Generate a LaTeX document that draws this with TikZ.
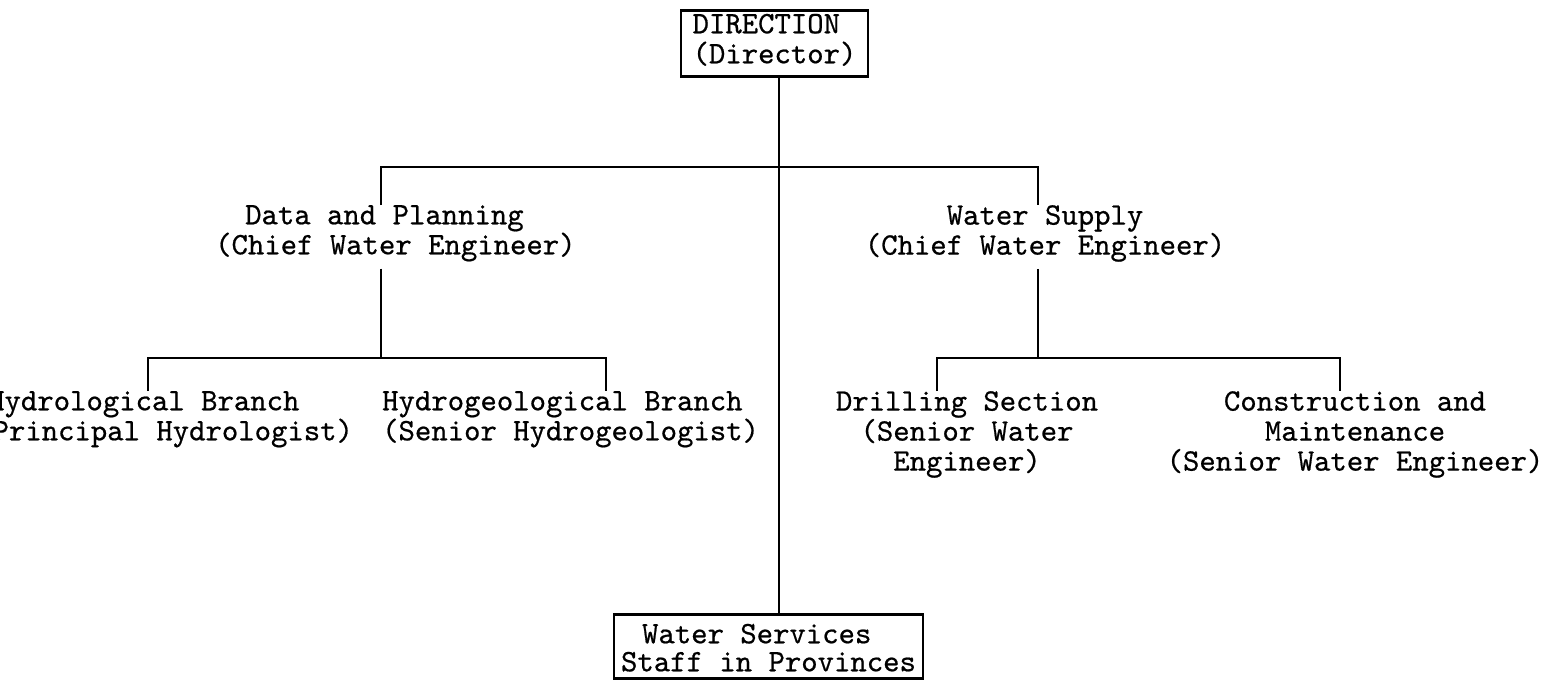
\documentclass[tikz,border=0pt]{standalone}
\usepackage{fontspec}
\newfontfamily\twfont{lmmono10-regular.otf}[FakeBold=0.6]
\begin{document}
\begin{tikzpicture}[x=1pt,y=-1pt,
  conn/.style={line width=2.5pt},
  lbl/.style={font={\fontsize{31.2}{30}\selectfont\twfont}, inner sep=0pt},
  boxed/.style={lbl, draw, line width=2.5pt, inner ysep=0pt}]
\fill[white] (0,0) rectangle (1552,681);
\useasboundingbox (0,0) rectangle (1552,681);

% boxes
\node[boxed, anchor=north, inner xsep=11.6pt, align=left] (dir) at (774.5,9)
  {\rule{0pt}{23pt}DIRECTION\\(Director)\rule[-13pt]{0pt}{13pt}};
\node[boxed, anchor=north, inner xsep=7.1pt, align=left] (staff) at (768.5,613)
  {\rule{0pt}{29pt}\hspace*{21pt}Water Services\\[-2pt]Staff in Provinces\rule[-7pt]{0pt}{7pt}};

% level 2
\node[lbl, anchor=north west, align=left] (dp) at (215,205)
  {\hspace*{30pt}Data and Planning\\(Chief Water Engineer)};
\node[lbl, anchor=north, align=center] (wsup) at (1045,205)
  {Water Supply\\(Chief Water Engineer)};

% level 3
\node[lbl, anchor=north west, align=left] (hyd) at (-24,391)
  {\hspace*{12pt}Hydrological Branch\\(Principal Hydrologist)};
\node[lbl, anchor=north west, align=left] (hgeo) at (382,391)
  {Hydrogeological Branch\\(Senior Hydrogeologist)};
\node[lbl, anchor=north, align=center] (dril) at (967,391)
  {Drilling Section\\(Senior Water\\Engineer)};
\node[lbl, anchor=north, align=center] (cons) at (1355,391)
  {Construction and\\Maintenance\\(Senior Water Engineer)};

% junction coordinates
\coordinate (spine) at (779,0);
\coordinate (a1) at (381,167);
\coordinate (b1) at (1038,167);
\coordinate (a2) at (381,358);
\coordinate (aL) at (148,358);
\coordinate (aR) at (606,358);
\coordinate (b2) at (1038,358);
\coordinate (bL) at (937,358);
\coordinate (bR) at (1340,358);

% connectors
\draw[conn] (dir.south -| spine) -- (staff.north -| spine);
\draw[conn] (dp.north -| a1) -- (a1) -- (b1) -- (wsup.north -| b1);
\draw[conn] ([yshift=-7pt]dp.south -| a2) -- (a2);
\draw[conn] (hyd.north -| aL) -- (aL) -- (aR) -- (hgeo.north -| aR);
\draw[conn] ([yshift=-7pt]wsup.south -| b2) -- (b2);
\draw[conn] (dril.north -| bL) -- (bL) -- (bR) -- (cons.north -| bR);
\end{tikzpicture}
\end{document}
